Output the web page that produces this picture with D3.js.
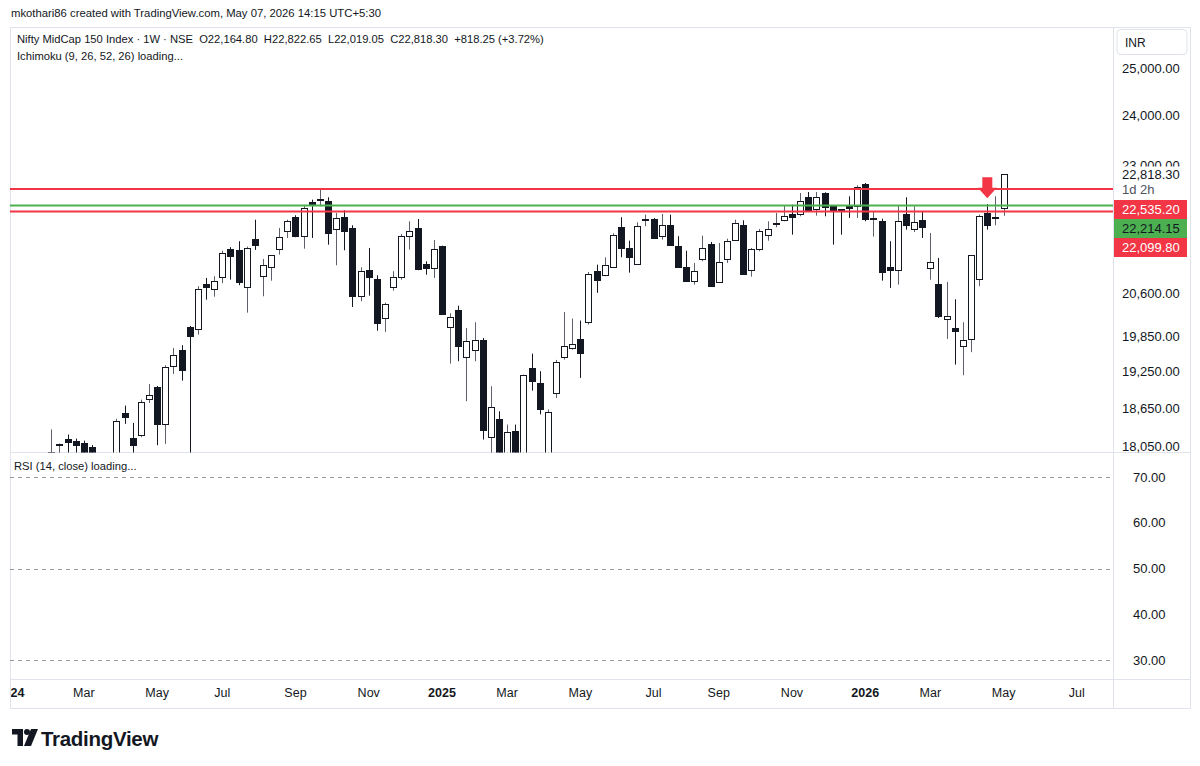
<!DOCTYPE html>
<html>
<head>
<meta charset="utf-8">
<script src="https://cdn.jsdelivr.net/npm/d3@7"></script>
<style>
    body { margin: 0; background: #fff; }
    svg { display: block; font-family: "Liberation Sans", Arial, sans-serif; }
</style>
</head>
<body>
<svg id="chart" width="1200" height="766"></svg>
<script>
// ========= DATA =========== \\
const firstWeek = new Date(2024, 0, 1)   // weekly bars, Monday open

const opens = [16900, 17180, 17300, 17050, 17550, 17880, 18080, 18172, 18145, 18109,
    18050, 17700, 17300, 17850, 18577, 18187, 18239, 18813, 19003, 18408,
    19350, 19613, 20015, 19970, 20765, 20681, 20885, 21400, 21381, 20711,
    21590, 20903, 21065, 21400, 21727, 21997, 21635, 22288, 22335, 22296,
    21765, 21997, 21790, 20545, 21022, 20854, 20160, 20711, 20885, 21640,
    21784, 21125, 21052, 21455, 20004, 20300, 19500, 19613, 19792, 18198,
    18487, 17900, 18292, 17930, 19317, 19069, 17900, 18905, 19500, 19652,
    19810, 20096, 21004, 20931, 21076, 21802, 21418, 21120, 21940, 21965,
    21640, 21840, 21449, 21076, 20813, 21222, 21492, 20795, 21222, 21572,
    21852, 21016, 21394, 21665, 21880, 21946, 22054, 22054, 22373, 22155,
    22456, 22200, 22143, 22200, 22200, 22630, 21960, 21915, 21065, 21022,
    22060, 21776, 21946, 21052, 20765, 20153, 19987, 19680, 19804, 20859,
    22073, 21985, 22164.80]
const highs = [17250, 17450, 17400, 17600, 17800, 18320, 18100, 18240, 18176, 18145,
    18075, 17800, 17900, 18490, 18700, 18424, 18797, 19052, 19019, 19361,
    19652, 19697, 20027, 20724, 20872, 20903, 21368, 21432, 21542, 21443,
    21946, 21216, 21289, 21790, 21946, 22029, 22219, 22327, 22535, 22373,
    22073, 22124, 21841, 21065, 21418, 20921, 20433, 20994, 21678, 21915,
    21959, 21174, 21566, 21460, 20248, 20380, 19992, 20091, 19821, 19014,
    18609, 18397, 18397, 19205, 19556, 19262, 18638, 19450, 20270, 20154,
    20119, 20980, 21112, 21246, 21690, 21991, 21553, 21897, 22041, 21978,
    22054, 22041, 21635, 21368, 21143, 21646, 21529, 21510, 21590, 21946,
    21934, 21418, 21771, 21915, 22073, 22219, 22231, 22456, 22475, 22475,
    22469, 22219, 22143, 22392, 22605, 22650, 22111, 21965, 21542, 22219,
    22373, 22200, 22092, 21695, 21235, 20801, 20492, 20091, 21283, 22041,
    22244, 22392, 22822.65]
const lows = [16800, 17050, 16850, 17000, 17400, 17800, 17920, 17950, 17950, 17850,
    17600, 17100, 17250, 17800, 18408, 17900, 18198, 18743, 18073, 18094,
    19217, 19106, 17800, 19878, 20485, 20538, 20777, 20841, 20742, 20258,
    21381, 20545, 20823, 21295, 21603, 21616, 21405, 21603, 22200, 21479,
    21101, 21375, 20357, 20457, 20556, 19946, 19924, 20645, 20841, 21387,
    21011, 20931, 20872, 20220, 19388, 19428, 18771, 19428, 18161, 17950,
    17800, 17750, 17850, 17850, 18943, 18559, 17700, 18824, 19455, 19623,
    19151, 20050, 20605, 20903, 21052, 21247, 20967, 21120, 21821, 21590,
    21572, 21468, 21052, 20813, 20752, 21174, 20711, 20783, 21143, 21553,
    20931, 20896, 21357, 21553, 21802, 21915, 21665, 22010, 22105, 22022,
    22010, 21479, 21665, 21978, 21978, 21915, 21628, 20823, 20694, 20752,
    21758, 21714, 21603, 20841, 20165, 19804, 19372, 19195, 19580, 20724,
    21758, 21840, 22019.05]
const closes = [17180, 17300, 17050, 17550, 17700, 17975, 18085, 18120, 18073, 17900,
    17700, 17300, 17800, 18450, 18514, 18083, 18755, 18878, 18408, 19328,
    19529, 19278, 19850, 20681, 20717, 20813, 21326, 21276, 20795, 21418,
    21468, 21112, 21283, 21627, 21915, 21646, 22168, 22231, 22345, 21695,
    21972, 21727, 20545, 20998, 20896, 20079, 20405, 20885, 21646, 21733,
    21040, 21052, 21400, 20230, 20183, 19690, 19765, 19792, 18318, 18674,
    17950, 18276, 17950, 19195, 19097, 18652, 18597, 19416, 19680, 19720,
    19568, 20944, 20841, 21107, 21665, 21418, 21258, 21821, 21950, 21603,
    21840, 21479, 21071, 20823, 21004, 21418, 20724, 21156, 21542, 21884,
    20944, 21394, 21727, 21771, 21888, 22010, 22003, 22308, 22117, 22373,
    22180, 22124, 22105, 22162, 22566, 21965, 21970, 20980, 21022, 21915,
    21852, 21903, 21808, 21156, 20205, 20205, 19936, 19792, 21283, 22022,
    21852, 21995, 22818.30]

const levelPrices = [22535.20, 22214.15, 22099.80]
const levelColors = ['#f23645', '#4caf50', '#f23645']
const levelTextColors = ['#ffffff', '#131722', '#ffffff']

const priceTicks = [25000, 24000, 23000, 20600, 19850, 19250, 18650, 18050]
const rsiTicks = [70, 60, 50, 40, 30]
const rsiBands = [70, 50, 30]
const monthTicks = ['2024-01', '2024-03', '2024-05', '2024-07', '2024-09', '2024-11',
    '2025-01', '2025-03', '2025-05', '2025-07', '2025-09', '2025-11',
    '2026-01', '2026-03', '2026-05', '2026-07']

const arrowWeek = 120
const arrowPrice = 22352

const candles = opens.map((o, i) => ({ i, o, h: highs[i], l: lows[i], c: closes[i] }))

// ========= SCALES =========== \\
const WEEK = 7 * 86400000
const x = d3.scaleLinear().domain([0, 122]).range([10.6, 1003.6])
const y = d3.scaleLog().domain([18050, 25000]).range([446.7, 68.3])
const yRsi = d3.scaleLinear().domain([30, 70]).range([660, 477])
const fmt = d3.format(',.2f')

const svg = d3.select('#chart')
const frame = { left: 10, right: 1190, top: 27, bottom: 708, axisX: 1113, paneSplit: 452.5, timeTop: 679.5 }

const defs = svg.append('defs')
defs.append('clipPath').attr('id', 'clip-price')
    .append('rect').attr('x', frame.left).attr('y', frame.top)
    .attr('width', frame.axisX - frame.left).attr('height', frame.paneSplit - frame.top)
defs.append('clipPath').attr('id', 'clip-time')
    .append('rect').attr('x', frame.left + 1).attr('y', frame.timeTop)
    .attr('width', frame.axisX - frame.left - 1).attr('height', frame.bottom - frame.timeTop)

// ========= HEADER =========== \\
svg.append('text').attr('x', 11).attr('y', 17).attr('font-size', 11.3).attr('fill', '#131722')
    .text('mkothari86 created with TradingView.com, May 07, 2026 14:15 UTC+5:30')

// ========= FRAME =========== \\
const lineColor = '#e0e3eb'
svg.append('rect').attr('x', frame.left + 0.5).attr('y', frame.top + 0.5)
    .attr('width', frame.right - frame.left).attr('height', frame.bottom - frame.top)
    .attr('fill', 'none').attr('stroke', lineColor)
svg.append('line').attr('x1', frame.axisX + 0.5).attr('x2', frame.axisX + 0.5)
    .attr('y1', frame.top).attr('y2', frame.bottom).attr('stroke', lineColor)
svg.append('line').attr('x1', frame.left).attr('x2', frame.right)
    .attr('y1', frame.paneSplit).attr('y2', frame.paneSplit).attr('stroke', lineColor)
svg.append('line').attr('x1', frame.left).attr('x2', frame.right)
    .attr('y1', frame.timeTop).attr('y2', frame.timeTop).attr('stroke', lineColor)

// ========= PRICE PANE =========== \\
const pane = svg.append('g').attr('clip-path', 'url(#clip-price)')

const up = d => d.c >= d.o
const snap = v => Math.round(v)

pane.selectAll('line.wick').data(candles).join('line')
    .attr('class', 'wick')
    .attr('x1', d => snap(x(d.i)) + 0.5).attr('x2', d => snap(x(d.i)) + 0.5)
    .attr('y1', d => y(d.h)).attr('y2', d => y(d.l))
    .attr('stroke', d => up(d) ? '#5d606b' : '#131722').attr('stroke-width', 1)

pane.selectAll('rect.body').data(candles).join('rect')
    .attr('class', 'body')
    .attr('x', d => snap(x(d.i)) - 2.5)
    .attr('y', d => snap(y(Math.max(d.o, d.c))) + 0.5)
    .attr('width', 6)
    .attr('height', d => Math.max(1, snap(y(Math.min(d.o, d.c))) - snap(y(Math.max(d.o, d.c)))))
    .attr('fill', d => up(d) ? '#ffffff' : '#131722')
    .attr('stroke', '#131722').attr('stroke-width', 1)

// horizontal levels
pane.selectAll('line.level').data(levelPrices).join('line')
    .attr('class', 'level')
    .attr('x1', frame.left).attr('x2', frame.axisX)
    .attr('y1', d => y(d)).attr('y2', d => y(d))
    .attr('stroke', (d, i) => levelColors[i]).attr('stroke-width', 2)

// arrow marker
const tx = x(arrowWeek), ty = y(arrowPrice)
pane.append('path')
    .attr('d', `M${tx - 5},${ty - 21} L${tx + 5},${ty - 21} L${tx + 5},${ty - 10.5} L${tx + 9.5},${ty - 10.5} L${tx},${ty} L${tx - 9.5},${ty - 10.5} L${tx - 5},${ty - 10.5} Z`)
    .attr('fill', '#f23645')

// legend
svg.append('text').attr('x', 17).attr('y', 43).attr('font-size', 11.2).attr('fill', '#131722')
    .attr('xml:space', 'preserve')
    .text(`Nifty MidCap 150 Index · 1W · NSE  O${fmt(opens[122])}  H${fmt(highs[122])}  L${fmt(lows[122])}  C${fmt(closes[122])}  +818.25 (+3.72%)`)
svg.append('text').attr('x', 17).attr('y', 60).attr('font-size', 11.2).attr('fill', '#131722')
    .text('Ichimoku (9, 26, 52, 26) loading...')

// ========= PRICE AXIS =========== \\
const axisText = 1122
svg.append('rect').attr('x', 1117).attr('y', 29.5).attr('width', 70).attr('height', 25)
    .attr('rx', 4).attr('fill', '#fff').attr('stroke', lineColor)
svg.append('text').attr('x', 1125).attr('y', 46.5).attr('font-size', 12).attr('fill', '#131722').text('INR')

svg.selectAll('text.ptick').data(priceTicks).join('text')
    .attr('class', 'ptick')
    .attr('x', axisText).attr('y', d => y(d)).attr('dy', '0.35em')
    .attr('font-size', 13).attr('fill', '#131722')
    .text(d => fmt(d))

// last price label
svg.append('rect').attr('x', frame.axisX + 1).attr('y', 166.5).attr('width', 76).attr('height', 30).attr('fill', '#fff')
svg.append('text').attr('x', axisText).attr('y', y(closes[122])).attr('dy', '0.35em')
    .attr('font-size', 13).attr('fill', '#131722').text(fmt(closes[122]))
svg.append('text').attr('x', axisText).attr('y', y(closes[122]) + 15).attr('dy', '0.35em')
    .attr('font-size', 13).attr('fill', '#50535e').text('1d 2h')

// level labels, stacked under the last price
const boxTop = 200, boxH = 19
levelPrices.forEach((p, i) => {
    svg.append('rect').attr('x', frame.axisX + 1).attr('y', boxTop + i * boxH)
        .attr('width', 73).attr('height', boxH).attr('fill', levelColors[i])
    svg.append('text').attr('x', axisText).attr('y', boxTop + i * boxH + boxH / 2).attr('dy', '0.35em')
        .attr('font-size', 13).attr('fill', levelTextColors[i]).text(fmt(p))
})

// ========= RSI PANE =========== \\
svg.append('text').attr('x', 14).attr('y', 470).attr('font-size', 11.2).attr('fill', '#131722')
    .text('RSI (14, close) loading...')

svg.selectAll('line.rsi-band').data(rsiBands).join('line')
    .attr('class', 'rsi-band')
    .attr('x1', frame.left).attr('x2', frame.axisX)
    .attr('y1', d => snap(yRsi(d)) + 0.5).attr('y2', d => snap(yRsi(d)) + 0.5)
    .attr('stroke', '#9598a1').attr('stroke-dasharray', '4,4')

svg.selectAll('text.rtick').data(rsiTicks).join('text')
    .attr('class', 'rtick')
    .attr('x', axisText + 11).attr('y', d => yRsi(d)).attr('dy', '0.35em')
    .attr('font-size', 13).attr('fill', '#131722')
    .text(d => d.toFixed(2))

// ========= TIME AXIS =========== \\
const ticks = monthTicks.map(m => {
    const [yr, mo] = m.split('-').map(Number)
    const first = new Date(yr, mo - 1, 1)
    const idx = Math.ceil((first - firstWeek) / WEEK)
    return { idx, label: mo === 1 ? String(yr) : d3.timeFormat('%b')(first), year: mo === 1 }
})

svg.append('g').attr('clip-path', 'url(#clip-time)')
    .selectAll('text').data(ticks).join('text')
    .attr('x', d => x(d.idx)).attr('y', 697)
    .attr('text-anchor', 'middle').attr('font-size', 12.5)
    .attr('font-weight', d => d.year ? 'bold' : 'normal')
    .attr('fill', '#131722')
    .text(d => d.label)

// ========= LOGO =========== \\
const logo = svg.append('g').attr('transform', 'translate(12,729)').attr('fill', '#131722')
logo.append('path').attr('d', 'M0,0 H11 V17 H5.5 V5.5 H0 Z')
logo.append('circle').attr('cx', 15).attr('cy', 3).attr('r', 3)
logo.append('path').attr('d', 'M19,0 H26 L19,17 H12 Z')
svg.append('text').attr('x', 41).attr('y', 746).attr('font-size', 20.5).attr('font-weight', 'bold')
    .attr('fill', '#131722').attr('letter-spacing', -0.3).text('TradingView')
</script>
</body>
</html>
